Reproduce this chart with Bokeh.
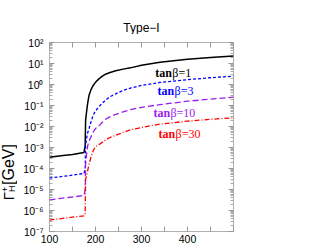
import math
from bokeh.plotting import figure
from bokeh.layouts import row, column
from bokeh.models import (Range1d, FixedTicker, LogAxis, LinearAxis,
                          CustomJSTickFormatter, CustomLabelingPolicy)
from bokeh.core.properties import value
from bokeh.embed import file_html
from bokeh.resources import INLINE

# ---- data ----
mass = [100, 125, 150, 175, 177.5, 178.5, 181, 183, 186, 190, 195, 200, 208,
        215, 222, 230, 244, 260, 276, 300, 340, 400, 450, 500]
width_tb1 = [3.4e-4, 4.0e-4, 4.7e-4, 5.8e-4, 1.2e-3, 0.02, 0.06, 0.13, 0.31,
             0.55, 0.9, 1.27, 1.9, 2.5, 3.1, 3.6, 4.5, 5.4, 6.2, 8.3, 11.5,
             16.0, 19.5, 23.0]
width_tb3 = [3.5e-5, 4.1e-5, 4.8e-5, 5.8e-5, 1.0e-4, 1.3e-3, 3.0e-3, 5.0e-3,
             8.0e-3, 0.016, 0.035, 0.055, 0.09, 0.13, 0.18, 0.25, 0.36, 0.52,
             0.68, 0.9, 1.25, 1.7, 2.1, 2.5]
width_tb10 = [3.2e-6, 3.8e-6, 4.4e-6, 5.2e-6, 1.0e-5, 1.5e-4, 6.0e-4, 1.2e-3,
              2.0e-3, 3.2e-3, 5.5e-3, 8.0e-3, 0.011, 0.016, 0.022, 0.028,
              0.038, 0.05, 0.063, 0.082, 0.11, 0.16, 0.2, 0.25]
width_tb30 = [3.5e-7, 4.1e-7, 4.8e-7, 5.6e-7, 6.0e-7, 3.0e-5, 5.0e-5, 8.0e-5,
              1.6e-4, 3.4e-4, 7.0e-4, 1.1e-3, 1.4e-3, 1.8e-3, 2.3e-3, 2.9e-3,
              3.8e-3, 5.2e-3, 7.0e-3, 9.0e-3, 0.013, 0.018, 0.022, 0.026]
series_names = ["1", "3", "10", "30"]
x_ticks = [100, 150, 200, 250, 300, 350, 400, 450, 500]
x_tick_labels = {100: "100", 150: "", 200: "200", 250: "", 300: "300",
                 350: "", 400: "400", 450: "", 500: ""}
y_decades = list(range(-7, 3))
title_text = "Type\u2212I"

colors = ["#000000", "#0000ff", "#9a1eea", "#ff0000"]
dashes = ["solid", "3 2", "6 3", "5 2 1 2"]
widths = [1.5, 1.3, 1.3, 1.3]
label_pos = [(330, 3.4), (335, 0.51), (326, 0.045), (337, 0.0044)]

HEADER_H = 34

p = figure(width=300, height=245 - HEADER_H, output_backend="svg", toolbar_location=None,
           x_axis_type="linear", y_axis_type="log", title=None,
           x_range=Range1d(100, 500), y_range=Range1d(1e-7, 1e2),
           min_border_left=32, min_border_right=84, min_border_top=42 - HEADER_H,
           min_border_bottom=0)
p.grid.visible = False
p.outline_line_color = "#b0b0b0"
p.outline_line_width = 1

for ys, c, d, w in zip([width_tb1, width_tb3, width_tb10, width_tb30], colors, dashes, widths):
    p.line(mass, ys, line_color=c, line_dash=d, line_width=w)

for name, c, (lx, ly) in zip(series_names, colors, label_pos):
    p.text(x=[lx], y=[ly], text=["tan"], text_color=c, text_font=value("Liberation Serif"),
           text_font_style="bold", text_font_size="12px", text_baseline="middle")
    p.text(x=[lx], y=[ly], text=["\u03b2=" + name], text_color=c,
           text_font=value("Liberation Serif"), text_font_size="12px",
           text_baseline="middle", x_offset=17)

sup_code = """
const m = {'-':'\\u207b','0':'\\u2070','1':'\\u00b9','2':'\\u00b2','3':'\\u00b3','4':'\\u2074','5':'\\u2075','6':'\\u2076','7':'\\u2077','8':'\\u2078','9':'\\u2079'};
const e = Math.round(Math.log10(tick)).toString();
let s = '';
for (const ch of e) s += m[ch];
return '10' + s;
"""
minor = []
for d in y_decades[:-1]:
    for k in range(2, 10):
        minor.append(k * 10.0 ** d)
yt = FixedTicker(ticks=[10.0 ** d for d in y_decades], minor_ticks=minor)
xt = FixedTicker(ticks=x_ticks, minor_ticks=[])

def style_axis(ax, labels):
    ax.axis_line_color = None
    ax.major_tick_in = 5
    ax.major_tick_out = 0
    ax.minor_tick_in = 3
    ax.minor_tick_out = 0
    ax.major_tick_line_color = "#999999"
    ax.minor_tick_line_color = "#aaaaaa"
    ax.major_label_text_font = "Liberation Sans"
    ax.major_label_text_font_size = "10.5px"
    ax.major_label_text_color = "#000000"
    ax.major_label_standoff = 6
    if not labels:
        ax.major_label_policy = CustomLabelingPolicy(
            code="for (const i of indices) indices.unset(i)")
        ax.major_label_standoff = 0
        ax.major_label_text_font_size = "1px"

yax = p.yaxis[0]
yax.ticker = yt
yax.formatter = CustomJSTickFormatter(code=sup_code)
style_axis(yax, True)
xax = p.xaxis[0]
xax.ticker = xt
xax.major_label_overrides = x_tick_labels
style_axis(xax, True)
xax.minor_tick_in = 0
xax.major_label_standoff = 3

rax = LogAxis(ticker=yt)
style_axis(rax, False)
p.add_layout(rax, "right")
tax = LinearAxis(ticker=xt)
style_axis(tax, False)
tax.minor_tick_in = 0
p.add_layout(tax, "above")

# y-axis title  Γ_H^+ [GeV] in a narrow strip figure at the left
lf = figure(width=17, height=245 - HEADER_H, output_backend="svg", toolbar_location=None,
            x_range=Range1d(0, 17), y_range=Range1d(0, 245 - HEADER_H), min_border=0,
            x_axis_location=None, y_axis_location=None, title=None)
lf.outline_line_color = None
lf.grid.visible = False
ylab_font = value("Liberation Sans")
ylab_parts = [("\u0393", 8, 35, "15px"), ("+", 4.5, 44, "9px"),
              ("H", 11.5, 44, "9px"), ("[GeV]", 8, 52, "16px")]
for txt, sx, sy, fs in ylab_parts:
    lf.text(x=[sx], y=[sy], text=[txt], angle=math.pi / 2, text_font=ylab_font,
            text_font_size=fs, text_baseline="middle", text_align="left",
            text_color="#000000")

# title strip on top
hf = figure(width=317, height=HEADER_H, output_backend="svg", toolbar_location=None,
            x_range=Range1d(0, 317), y_range=Range1d(0, HEADER_H), min_border=0,
            x_axis_location=None, y_axis_location=None, title=None)
hf.outline_line_color = None
hf.grid.visible = False
hf.text(x=[141], y=[7], text=[title_text], text_font=value("Liberation Sans"),
        text_font_size="12px", text_align="center", text_baseline="middle",
        text_color="#000000")

layout = column(hf, row(lf, p, spacing=0), spacing=0)
open("out.html", "w").write(file_html(layout, INLINE))
